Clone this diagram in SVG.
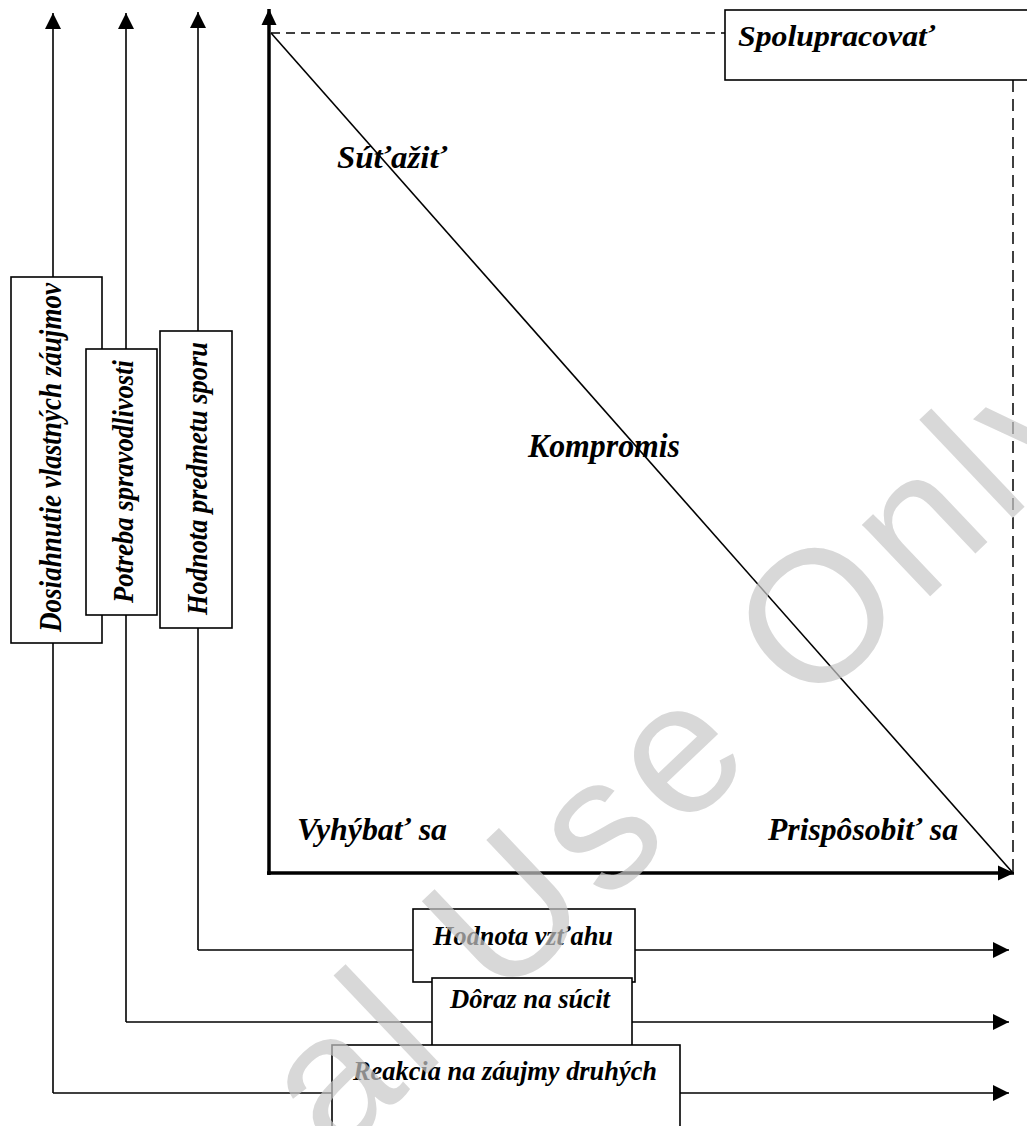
<svg xmlns="http://www.w3.org/2000/svg" width="1027" height="1126" viewBox="0 0 1027 1126">
<defs>
<style>
.lbl{font-family:"Liberation Serif","Times New Roman",serif;font-weight:bold;font-style:italic;fill:#000}
.box{fill:#fff;stroke:#000;stroke-width:1.6}
.ln{fill:none;stroke:#000;stroke-width:1.6}
.axis{fill:none;stroke:#000;stroke-width:3.5}
.dash{fill:none;stroke:#000;stroke-width:1.5}
.wm{font-family:"Liberation Sans",Arial,sans-serif;fill:#c8c8c8;opacity:0.7}
</style>
<marker id="ah" viewBox="0 0 16 16" refX="16" refY="8" markerWidth="16" markerHeight="16" markerUnits="userSpaceOnUse" orient="auto">
<path d="M0,0 L16,8 L0,16 z" fill="#000"/>
</marker>
<marker id="ahs" viewBox="0 0 16 16" refX="16" refY="8" markerWidth="16" markerHeight="16" markerUnits="userSpaceOnUse" orient="auto">
<path d="M0,0.5 L16,8 L0,15.5 z" fill="#000"/>
</marker>
</defs>
<rect width="1027" height="1126" fill="#fff"/>

<g id="connectors">
<path class="ln" d="M53,1093 L53,13" marker-end="url(#ah)"/>
<path class="ln" d="M126,1022 L126,13" marker-end="url(#ah)"/>
<path class="ln" d="M198,950 L198,12" marker-end="url(#ah)"/>
<path class="ln" d="M53,1093 L332,1093"/>
<path class="ln" d="M126,1022 L432,1022"/>
<path class="ln" d="M198,950 L413,950"/>
<path class="ln" d="M635,950 L1009,950" marker-end="url(#ah)"/>
<path class="ln" d="M632,1022 L1009,1022" marker-end="url(#ah)"/>
<path class="ln" d="M680,1093 L1009,1093" marker-end="url(#ah)"/>
<path class="axis" d="M269,875 L269,9" marker-end="url(#ahs)"/>
<path class="axis" d="M267,873 L1014,873" marker-end="url(#ahs)"/>
<path class="dash" d="M271,33 L725,33" stroke-dasharray="9,6"/>
<path class="dash" d="M1013,80 L1013,873" stroke-dasharray="12,7"/>
<path class="ln" stroke-width="1.3" d="M271,33 L1013,873"/>
</g>

<g id="node-spolupracovat">
<rect class="box" x="725" y="10" width="320" height="70"/>
<text class="lbl" x="738" y="46" font-size="30" textLength="197" lengthAdjust="spacingAndGlyphs">Spolupracovať</text>
</g>
<g id="node-sutazit">
<text class="lbl" x="337" y="168" font-size="31" textLength="110" lengthAdjust="spacingAndGlyphs">Súťažiť</text>
</g>
<g id="node-kompromis">
<text class="lbl" x="528" y="457" font-size="33" textLength="152" lengthAdjust="spacingAndGlyphs">Kompromis</text>
</g>
<g id="node-vyhybat">
<text class="lbl" x="297" y="840" font-size="32" textLength="150" lengthAdjust="spacingAndGlyphs">Vyhýbať sa</text>
</g>
<g id="node-prisposobit">
<text class="lbl" x="768" y="840" font-size="32" textLength="190" lengthAdjust="spacingAndGlyphs">Prispôsobiť sa</text>
</g>

<g id="node-dosiahnutie">
<rect class="box" x="11" y="277" width="91" height="366"/>
<text class="lbl" transform="translate(61,632) rotate(-90)" font-size="31" textLength="349" lengthAdjust="spacingAndGlyphs">Dosiahnutie vlastných záujmov</text>
</g>
<g id="node-potreba">
<rect class="box" x="86" y="349" width="71" height="266"/>
<text class="lbl" transform="translate(133,603) rotate(-90)" font-size="30" textLength="243" lengthAdjust="spacingAndGlyphs">Potreba spravodlivosti</text>
</g>
<g id="node-hodnota-predmetu">
<rect class="box" x="160" y="331" width="72" height="297"/>
<text class="lbl" transform="translate(207,615) rotate(-90)" font-size="30" textLength="273" lengthAdjust="spacingAndGlyphs">Hodnota predmetu sporu</text>
</g>

<g id="node-hodnota-vztahu">
<rect class="box" x="413" y="909" width="222" height="73"/>
<text class="lbl" x="433" y="945" font-size="27" textLength="180" lengthAdjust="spacingAndGlyphs">Hodnota vzťahu</text>
</g>
<g id="node-doraz">
<rect class="box" x="432" y="978" width="200" height="80"/>
<text class="lbl" x="450" y="1008" font-size="27" textLength="160" lengthAdjust="spacingAndGlyphs">Dôraz na súcit</text>
</g>
<g id="node-reakcia">
<rect class="box" x="332" y="1045" width="348" height="100"/>
<text class="lbl" x="353" y="1080" font-size="27" textLength="304" lengthAdjust="spacingAndGlyphs">Reakcia na záujmy druhých</text>
</g>

<text class="wm" transform="translate(335,1161) rotate(-43.5)" font-size="187" letter-spacing="10">al Use Only</text>
</svg>
